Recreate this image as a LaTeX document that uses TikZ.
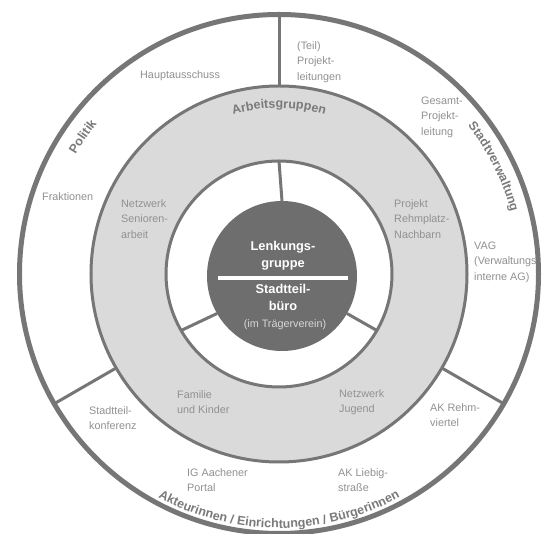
\documentclass[tikz,border=0pt]{standalone}
\usepackage{fontspec}
\setmainfont{Liberation Sans}
\usetikzlibrary{decorations.text}
\definecolor{ringline}{RGB}{118,118,118}
\definecolor{ringfill}{RGB}{218,218,218}
\definecolor{corefill}{RGB}{110,110,110}
\definecolor{lblgray}{RGB}{145,145,145}
\definecolor{titlegray}{RGB}{122,122,122}
\definecolor{corenote}{RGB}{215,215,215}
\newcommand\ringfont{\fontsize{12.5}{15}\selectfont\bfseries\color{titlegray}}

\begin{document}
\begin{tikzpicture}[x=1pt,y=1pt,
    ring/.style={circle,minimum size=#1,inner sep=0,outer sep=0,draw=ringline},
    lbl/.style={anchor=west,align=left,inner sep=0,text=lblgray,
      font=\fontsize{10.8}{15.5}\selectfont},
    coretext/.style={align=center,inner sep=0,text=white,
      font=\fontsize{12.8}{17}\selectfont\bfseries},
    divider/.style={draw=ringline,line width=3pt},
    ringtext/.style={decorate,decoration={text along path,text align=center,
      text={|\ringfont|#1}}}
  ]
  \path[use as bounding box,fill=white] (-279,-260) rectangle (264,274);
  \node[ring=519,line width=5pt,fill=white] (outerring) at (0,0) {};
  \node[ring=376,line width=3pt,fill=ringfill] (workring) at (0,0) {};
  \node[ring=226,line width=3pt,fill=white] (innerring) at (0,0) {};
  \node[ring=150,draw=none,fill=corefill] (core) at (3,-2) {};
  \foreach \a in {90,210,330} {
    \draw[divider] (workring.\a) -- (outerring.\a);
    \draw[divider] (core.\a) -- (innerring.\a);
  }

  \node[coretext] (lenkung) at (4,18) {Lenkungs-\\gruppe};
  \node[coretext] (buero) at (4,-23) {Stadtteil-\\büro};
  \node[inner sep=0,text=corenote,font=\fontsize{10.8}{13}\selectfont] (traeger) at (6,-51) {(im Trägerverein)};
  \draw[white,line width=3.5pt] (-61,-4) -- (69,-4);

  \path[ringtext=Politik] (165:236) arc[start angle=165,end angle=125,radius=236];
  \path[ringtext=Stadtverwaltung] (50:240) arc[start angle=50,end angle=3,radius=240];
  \path[ringtext=Arbeitsgruppen] (125:166) arc[start angle=125,end angle=55,radius=166];
  \path[ringtext={Akteurinnen / Einrichtungen / Bürgerinnen}] (210:254) arc[start angle=210,end angle=330,radius=254];

  \node[lbl] (haupt) at (-139,198) {Hauptausschuss};
  \node[lbl] (teil) at (18,212) {(Teil)\\Projekt-\\leitungen};
  \node[lbl] (gesamt) at (142,157) {Gesamt-\\Projekt-\\leitung};
  \node[lbl] (vag) at (195,12) {VAG\\(Verwaltungs\\interne AG)};
  \node[lbl] (fraktion) at (-237,77) {Fraktionen};
  \node[lbl] (senioren) at (-158,55) {Netzwerk\\Senioren-\\arbeit};
  \node[lbl] (rehmplatz) at (115,55) {Projekt\\Rehmplatz-\\Nachbarn};
  \node[lbl] (familie) at (-102,-128) {Familie\\und Kinder};
  \node[lbl] (jugend) at (60,-128) {Netzwerk\\Jugend};
  \node[lbl] (konferenz) at (-190,-144) {Stadtteil-\\konferenz};
  \node[lbl] (rehm) at (151,-141) {AK Rehm-\\viertel};
  \node[lbl] (aachen) at (-92,-206) {IG Aachener\\Portal};
  \node[lbl] (liebig) at (59,-206) {AK Liebig-\\straße};
\end{tikzpicture}
\end{document}
